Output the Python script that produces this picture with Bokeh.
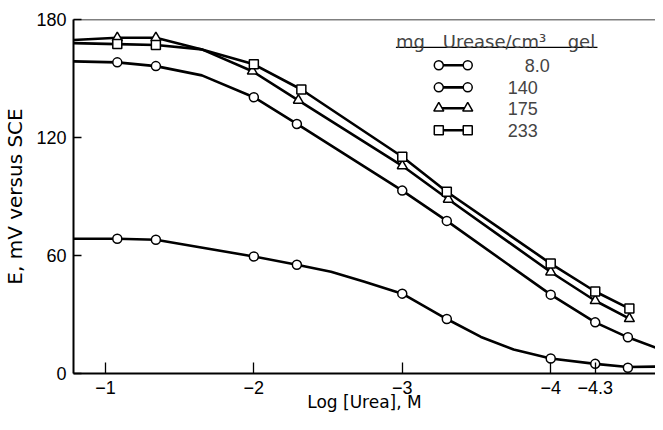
import math
from bokeh.plotting import figure
from bokeh.models import Range1d, FixedTicker, Span, Label
from bokeh.embed import file_html
from bokeh.resources import INLINE

# ---------------- data ----------------
x_ticks = [-1, -2, -3, -4, -4.3]
x_tick_labels = ["\u22121", "\u22122", "\u22123", "\u22124", "\u22124.3"]
y_ticks = [0, 60, 120, 180]

series_names = ["8.0", "140", "175", "233"]
series_markers = ["circle", "circle", "triangle", "square"]

# measured points
x_8 = [-1.08, -1.34, -2.0, -2.29, -3.0, -3.30, -4.0, -4.3, -4.52]
y_8 = [68.5, 68.0, 59.5, 55.3, 40.6, 27.7, 7.6, 4.9, 2.9]
x_140 = [-1.08, -1.34, -2.0, -2.29, -3.0, -3.30, -4.0, -4.3, -4.52]
y_140 = [158.2, 156.3, 140.5, 126.9, 93.0, 77.6, 40.1, 26.0, 18.4]
x_175 = [-1.08, -1.34, -1.99, -2.30, -3.0, -3.31, -4.0, -4.3, -4.53]
y_175 = [170.7, 170.7, 153.7, 138.9, 105.6, 88.6, 51.6, 37.0, 27.9]
x_233 = [-1.08, -1.34, -2.0, -2.32, -3.0, -3.30, -4.0, -4.3, -4.53]
y_233 = [167.5, 167.0, 157.2, 144.4, 110.2, 92.4, 55.9, 41.7, 33.0]

# drawn curves (incl. their ends)
cx_8 = [-0.785, -1.08, -1.34, -2.0, -2.29, -2.52, -2.74, -3.0, -3.30, -3.53, -3.75, -4.0, -4.3, -4.52, -4.706]
cy_8 = [68.5, 68.5, 68.0, 59.5, 55.3, 51.7, 46.8, 40.6, 27.7, 18.6, 12.2, 7.6, 4.9, 3.3, 3.5]
cx_140 = [-0.785, -1.08, -1.34, -1.65, -2.0, -2.29, -3.0, -3.30, -4.0, -4.3, -4.52, -4.706]
cy_140 = [158.7, 158.2, 156.3, 151.6, 140.5, 126.9, 93.0, 77.6, 40.1, 26.0, 18.4, 13.2]
cx_175 = [-0.785, -1.08, -1.34, -1.65, -1.99, -2.30, -3.0, -3.31, -4.0, -4.3, -4.53]
cy_175 = [169.6, 170.7, 170.7, 164.8, 153.7, 138.9, 105.6, 88.6, 51.6, 37.0, 27.9]
cx_233 = [-0.785, -1.08, -1.34, -1.65, -2.0, -2.32, -3.0, -3.30, -4.0, -4.3, -4.53]
cy_233 = [168.0, 167.5, 167.0, 164.8, 157.2, 144.4, 110.2, 92.4, 55.9, 41.7, 33.0]

points = [(x_8, y_8), (x_140, y_140), (x_175, y_175), (x_233, y_233)]
curves = [(cx_8, cy_8), (cx_140, cy_140), (cx_175, cy_175), (cx_233, cy_233)]

# ---------------- figure ----------------
p = figure(width=655, height=414, output_backend="svg", toolbar_location=None,
           x_range=Range1d(-0.785, -4.706), y_range=Range1d(0, 180),
           min_border_left=72, min_border_right=0, min_border_top=19,
           min_border_bottom=40)
p.outline_line_color = None
p.grid.visible = False
p.background_fill_color = "white"
p.border_fill_color = "white"

NUM_FONT = "Liberation Sans"
TXT_FONT = "DejaVu Sans"

p.xaxis.ticker = FixedTicker(ticks=x_ticks)
p.xaxis.major_label_overrides = {t: l for t, l in zip(x_ticks, x_tick_labels)}
p.yaxis.ticker = FixedTicker(ticks=y_ticks)
for ax in (p.xaxis[0], p.yaxis[0]):
    ax.axis_line_color = "black"
    ax.axis_line_width = 2
    ax.major_tick_line_color = "black"
    ax.major_tick_line_width = 1.3
    ax.major_tick_out = 0
    ax.minor_tick_line_color = None
    ax.major_label_text_font = NUM_FONT
    ax.major_label_text_font_size = "18px"
    ax.major_label_text_color = "black"
    ax.axis_label_text_font = TXT_FONT
    ax.axis_label_text_font_style = "normal"
    ax.axis_label_text_color = "black"
p.xaxis.major_tick_in = 11
p.yaxis.major_tick_in = 8
p.xaxis.major_label_standoff = 7
p.yaxis.major_label_standoff = 7

p.xaxis.axis_label = "Log [Urea], M"
p.xaxis.axis_label_text_font_size = "17px"
p.xaxis.axis_label_standoff = -5
p.yaxis.axis_label = "E, mV versus SCE"
p.yaxis.axis_label_text_font_size = "20px"
p.yaxis.axis_label_standoff = 6

p.add_layout(Span(location=180, dimension="width", line_color="black", line_width=1.5))

for (cx, cy) in curves:
    p.line(cx, cy, line_color="black", line_width=2.6)
for (px, py), mk in zip(points, series_markers):
    size = 10 if mk == "triangle" else 9
    p.scatter(px, py, marker=mk, size=size, fill_color="white",
              line_color="black", line_width=1.5)

# ---------------- legend (hand drawn) ----------------
leg_x0, leg_x1 = -3.246, -3.441
leg_rows = [156.7, 145.5, 134.9, 123.7]
for name, mk, ry in zip(series_names, series_markers, leg_rows):
    p.line([leg_x0, leg_x1], [ry, ry], line_color="black", line_width=2.6)
    size = 10 if mk == "triangle" else 9
    p.scatter([leg_x0, leg_x1], [ry, ry], marker=mk, size=size,
              fill_color="white", line_color="black", line_width=1.5)
    if name == "8.0":
        lab = Label(x=-3.993, y=ry, text=name, text_align="right")
    else:
        lab = Label(x=-3.710, y=ry, text=name, text_align="left")
    lab.text_baseline = "middle"
    lab.text_font = NUM_FONT
    lab.text_font_size = "18px"
    p.add_layout(lab)

hdr_y = 168.9
for txt, hx in [("mg", -2.957), ("Urease/cm\u00b3", -3.273), ("gel", -4.114)]:
    p.add_layout(Label(x=hx, y=hdr_y, text=txt, text_align="left",
                       text_baseline="alphabetic", text_font=TXT_FONT,
                       text_font_size="18px"))
p.line([-2.957, -4.315], [165.8, 165.8], line_color="black", line_width=1.2)

open("out.html", "w").write(file_html(p, INLINE))
